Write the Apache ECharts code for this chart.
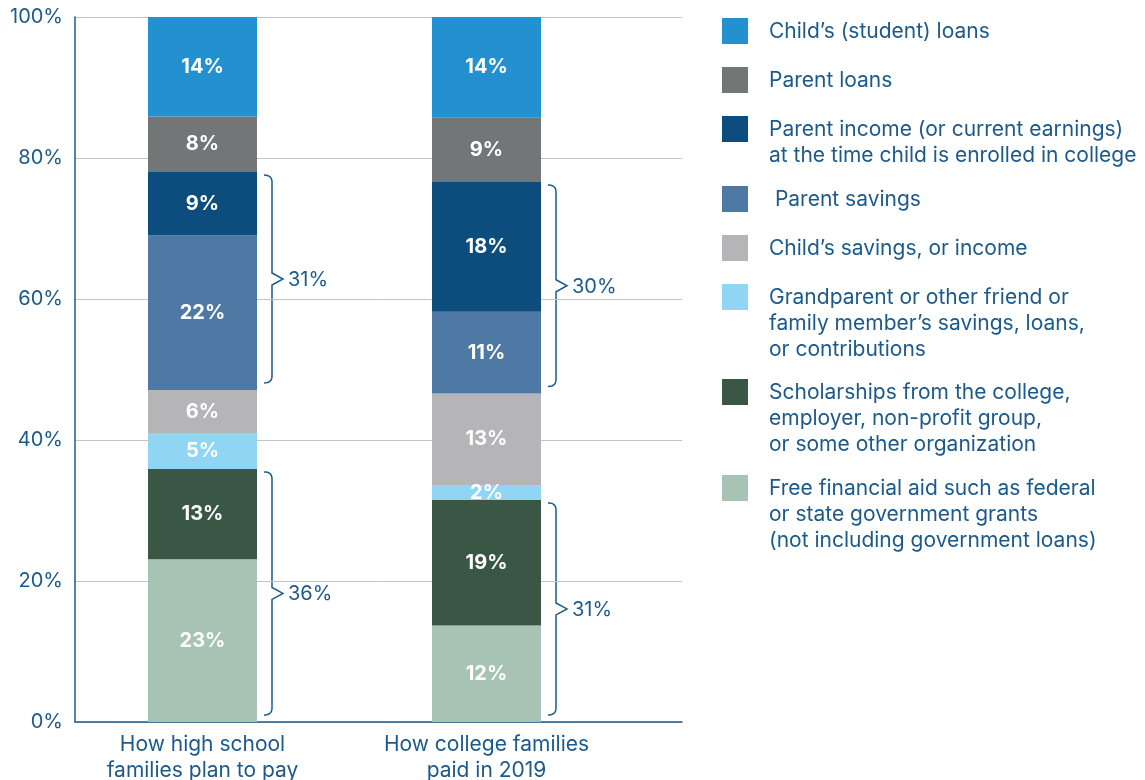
<!DOCTYPE html>
<html>
<head>
<meta charset="utf-8">
<script src="https://cdn.jsdelivr.net/npm/echarts@6/dist/echarts.min.js"></script>
<style>
  html, body { margin: 0; padding: 0; background: #fff; }
  #main { width: 1145px; height: 780px; }
</style>
</head>
<body>
<div id="main"></div>
<script>
// categories on the x axis
var categories = ['How high school\nfamilies plan to pay', 'How college families\npaid in 2019'];

// bar segment heights (% of total, as drawn) and the printed labels
var freeAid       = [23.1, 13.7];
var scholarships  = [12.8, 17.8];
var grandparent   = [5.0, 2.1];
var childSavings  = [6.2, 13.0];
var parentSavings = [21.9, 11.6];
var parentIncome  = [9.0, 18.4];
var parentLoans   = [7.9, 9.1];
var childLoans    = [14.1, 14.3];

var freeAidPct       = [23, 12];
var scholarshipsPct  = [13, 19];
var grandparentPct   = [5, 2];
var childSavingsPct  = [6, 13];
var parentSavingsPct = [22, 11];
var parentIncomePct  = [9, 18];
var parentLoansPct   = [8, 9];
var childLoansPct    = [14, 14];

// bracket totals: parent savings + income, and aid + scholarships
var braceUpperText = ['31%', '30%'];
var braceLowerText = ['36%', '31%'];

var blue = '#1c5a8c';
var font = 'Inter';

// stack order, bottom to top
var stackSeries = [
  { name: 'Free financial aid', legend: 'Free financial aid such as federal\nor state government grants\n(not including government loans)', color: '#a7c3b4', values: freeAid, pct: freeAidPct },
  { name: 'Scholarships', legend: 'Scholarships from the college,\nemployer, non-profit group,\nor some other organization', color: '#3a5746', values: scholarships, pct: scholarshipsPct },
  { name: 'Grandparent', legend: 'Grandparent or other friend or\nfamily member\u2019s savings, loans,\nor contributions', color: '#90d6f4', values: grandparent, pct: grandparentPct },
  { name: 'Child savings', legend: 'Child\u2019s savings, or income', color: '#b5b5b7', values: childSavings, pct: childSavingsPct },
  { name: 'Parent savings', legend: ' Parent savings', color: '#4e79a5', values: parentSavings, pct: parentSavingsPct },
  { name: 'Parent income', legend: 'Parent income (or current earnings)\nat the time child is enrolled in college', color: '#0c4d7e', values: parentIncome, pct: parentIncomePct },
  { name: 'Parent loans', legend: 'Parent loans', color: '#737677', values: parentLoans, pct: parentLoansPct },
  { name: 'Child loans', legend: 'Child\u2019s (student) loans', color: '#2391d0', values: childLoans, pct: childLoansPct }
];

var chart = echarts.init(document.getElementById('main'));

var series = stackSeries.map(function (s) {
  return {
    name: s.name,
    type: 'bar',
    stack: 'total',
    xAxisIndex: 1,
    yAxisIndex: 1,
    barWidth: 109,
    itemStyle: { color: s.color },
    label: {
      show: true,
      position: 'inside',
      color: '#fff',
      fontFamily: font,
      fontWeight: 'bold',
      fontSize: 20,
      formatter: function (p) { return s.pct[p.dataIndex] + '%'; }
    },
    data: s.values
  };
});

// legend drawn top to bottom
var legendTops = [18, 67, 116, 186, 235, 284, 379, 475];
var legendGraphics = [];
stackSeries.slice().reverse().forEach(function (s, i) {
  legendGraphics.push({
    type: 'rect', left: 722, top: legendTops[i],
    shape: { width: 26, height: 26 }, style: { fill: s.color }
  });
  legendGraphics.push({
    type: 'text', x: 769, y: legendTops[i] + 1,
    style: { text: s.legend, fill: blue, font: '21px ' + font, lineHeight: 26, verticalAlign: 'top' }
  });
});

chart.setOption({
  animation: false,
  grid: [
    { left: 75, top: 17, width: 607, bottom: 58, outerBoundsMode: 'none' },
    { left: 60.5, top: 17, width: 568, bottom: 58, outerBoundsMode: 'none' }
  ],
  xAxis: [
    { gridIndex: 0, type: 'category', data: categories,
      axisLine: { lineStyle: { color: blue, width: 1.5 } },
      axisTick: { show: false }, axisLabel: { show: false } },
    { gridIndex: 1, type: 'category', data: categories,
      axisLine: { show: false }, axisTick: { show: false },
      axisLabel: { color: blue, fontFamily: font, fontSize: 21, lineHeight: 26, margin: 10 } }
  ],
  yAxis: [
    { gridIndex: 0, type: 'value', min: 0, max: 100, interval: 20,
      axisLine: { show: true, lineStyle: { color: blue, width: 1.5 } },
      axisLabel: { formatter: '{value}%', color: blue, fontFamily: font, fontSize: 20, margin: 12 },
      splitLine: { lineStyle: { color: '#c4c4c4', width: 1 } } },
    { gridIndex: 1, type: 'value', min: 0, max: 100, show: false }
  ],
  series: series,
  graphic: legendGraphics
});

// curly brackets beside each bar
function sumOf(arrs, i) {
  return arrs.reduce(function (a, arr) { return a + arr[i]; }, 0);
}
// quadratic corner from (ax,ay) via (cx,cy) to (bx,by)
function corner(ax, ay, cx, cy, bx, by) {
  var pts = [];
  for (var k = 0; k <= 8; k++) {
    var t = k / 8, u = 1 - t;
    pts.push([u * u * ax + 2 * u * t * cx + t * t * bx, u * u * ay + 2 * u * t * cy + t * t * by]);
  }
  return pts;
}
function brace(cat, lo, hi, text) {
  var pLo = chart.convertToPixel({ gridIndex: 1 }, [cat, lo]);
  var pHi = chart.convertToPixel({ gridIndex: 1 }, [cat, hi]);
  var right = pLo[0] + 54.5;
  var x0 = right + 7, x1 = right + 15, tip = x1 + 11;
  var top = pHi[1] + 3, bot = pLo[1] - 7, mid = (top + bot) / 2, r = 7;
  var pts = corner(x0, top, x1, top, x1, top + r)
    .concat([[x1, mid - 6], [tip, mid], [x1, mid + 6]])
    .concat(corner(x1, bot - r, x1, bot, x0, bot));
  return [
    { type: 'polyline', shape: { points: pts }, style: { fill: null, stroke: blue, lineWidth: 1.5 } },
    { type: 'text', x: x1 + 16, y: mid + 1, style: { text: text, fill: blue, font: '20px ' + font, verticalAlign: 'middle' } }
  ];
}
var braces = [];
categories.forEach(function (c, i) {
  var lowTop = sumOf([freeAid, scholarships], i);
  var upLo = sumOf([freeAid, scholarships, grandparent, childSavings], i);
  var upHi = upLo + parentSavings[i] + parentIncome[i];
  braces = braces.concat(brace(i, upLo, upHi, braceUpperText[i]));
  braces = braces.concat(brace(i, 0, lowTop, braceLowerText[i]));
});
chart.setOption({ graphic: legendGraphics.concat(braces) });
</script>
</body>
</html>
